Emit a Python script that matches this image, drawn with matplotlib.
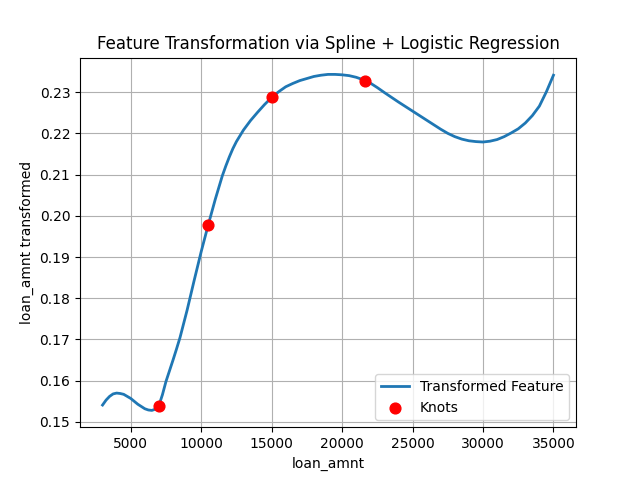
import numpy as np
import matplotlib
matplotlib.use('Agg')
import matplotlib.pyplot as plt

# curve values
loan_amnt = [3000, 3250, 3500, 3750, 4000, 4250, 4500, 5000, 5500, 6000,
             6250, 6500, 6750, 7000, 7250, 7500, 7750, 8000, 8250, 8500,
             9000, 9500, 10000, 10500, 11000, 11500, 11750, 12000, 12250,
             12500, 13000, 13500, 14000, 14500, 15000, 15500, 16000, 16500,
             17000, 17500, 18000, 18500, 19000, 19500, 20000, 20500, 21000,
             21500, 22000, 22500, 23000, 24000, 25000, 26000, 26500, 27000,
             27500, 28000, 28500, 29000, 29500, 30000, 30500, 31000, 31500,
             32000, 32500, 33000, 33500, 34000, 34500, 35000]
transformed = [0.1541, 0.1553, 0.1562, 0.1568, 0.1570, 0.1569, 0.1567,
               0.1557, 0.1543, 0.1532, 0.1529, 0.1528, 0.1531, 0.1540,
               0.1566, 0.1598, 0.1624, 0.1650, 0.1677, 0.1705, 0.1771,
               0.1843, 0.1913, 0.1978, 0.2040, 0.2097, 0.2121, 0.2143,
               0.2163, 0.2180, 0.2208, 0.2231, 0.2251, 0.2270, 0.2287,
               0.2301, 0.2313, 0.2321, 0.2328, 0.2333, 0.2338, 0.2341,
               0.2343, 0.2343, 0.2342, 0.2340, 0.2336, 0.2330, 0.2322,
               0.2311, 0.2299, 0.2276, 0.2254, 0.2232, 0.2221, 0.2210,
               0.2200, 0.2192, 0.2186, 0.2182, 0.2180, 0.2179, 0.2181,
               0.2185, 0.2192, 0.2201, 0.2211, 0.2225, 0.2243, 0.2266,
               0.2301, 0.2341]

knots_x = [7000, 10500, 15000, 21600]
knots_y = [0.1539, 0.1977, 0.2287, 0.2327]

fig, ax = plt.subplots(figsize=(6.4, 4.8), dpi=100)
ax.plot(loan_amnt, transformed, linewidth=2, label='Transformed Feature')
ax.scatter(knots_x, knots_y, color='red', s=60, zorder=3, label='Knots')
ax.set_xlabel('loan_amnt')
ax.set_ylabel('loan_amnt transformed')
ax.set_title('Feature Transformation via Spline + Logistic Regression')
ax.legend(loc='lower right')
ax.grid(True)

plt.savefig('out.png')
